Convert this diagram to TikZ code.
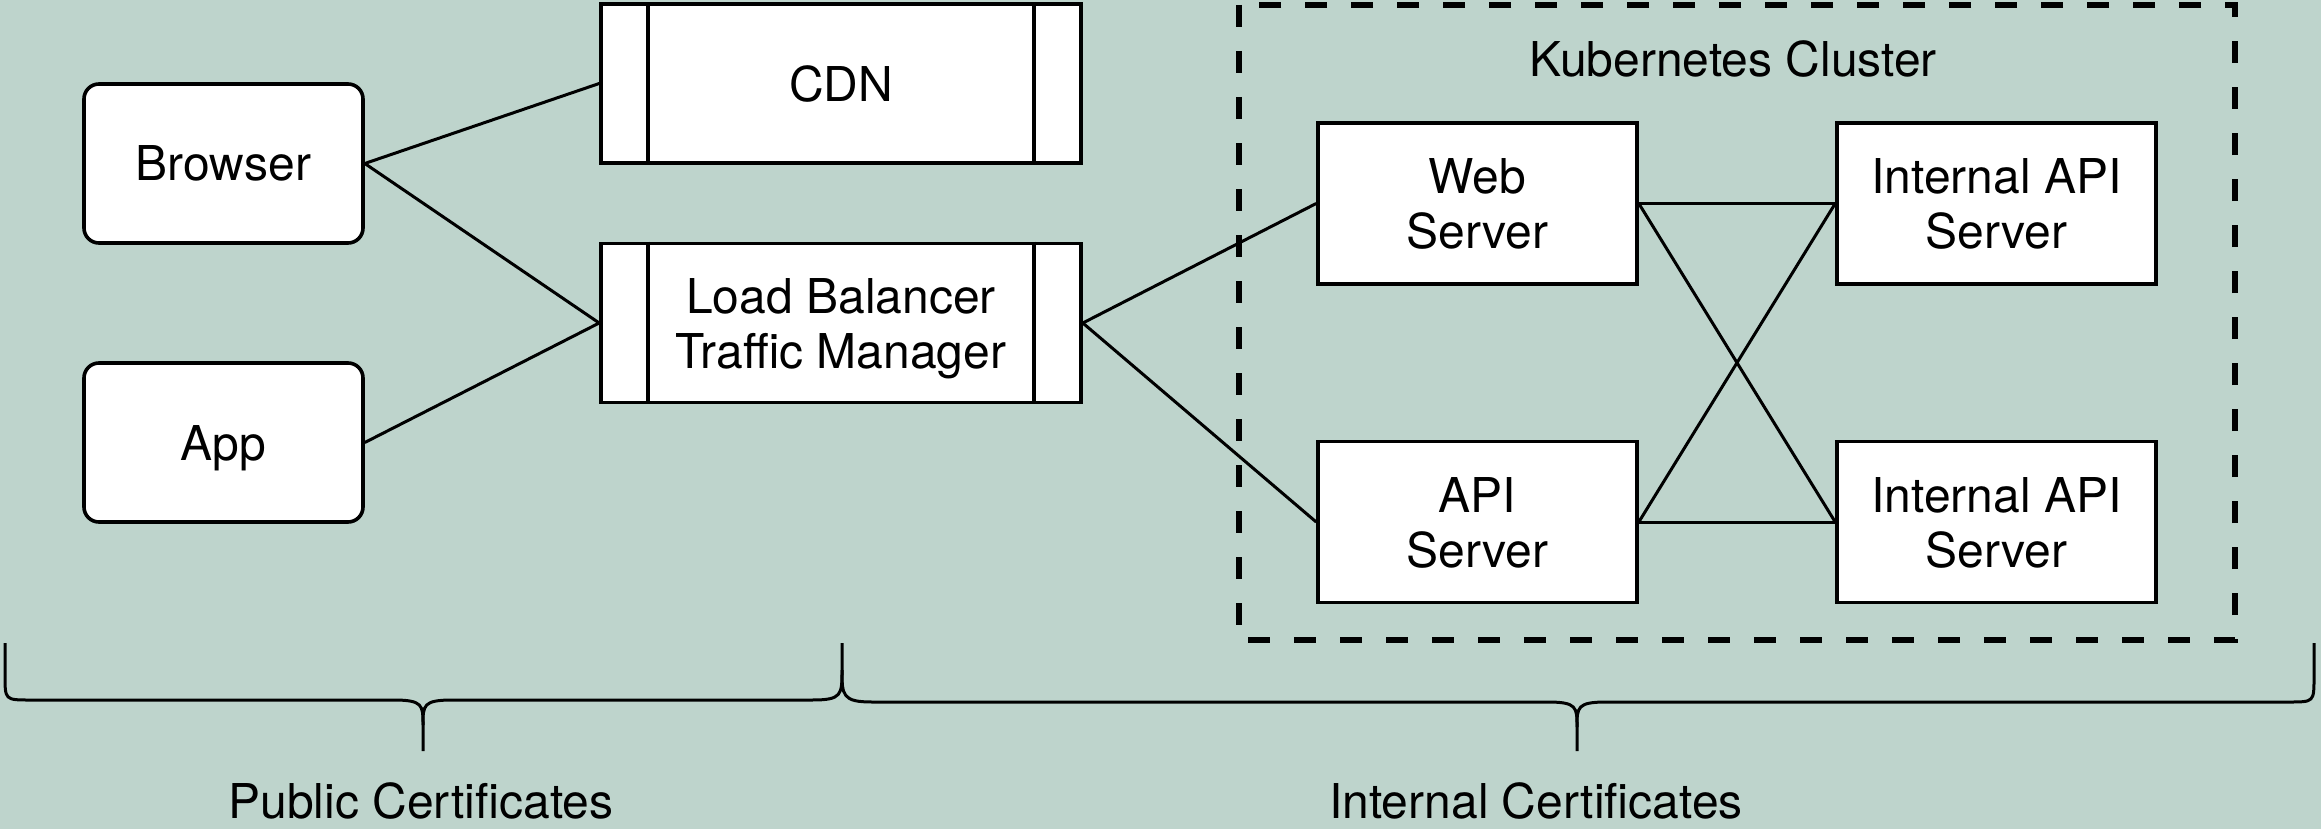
\documentclass[tikz,border=0pt]{standalone}
\usepackage{fontspec}
\setmainfont{TeX Gyre Heros}
\definecolor{bgc}{RGB}{190,212,204}
\begin{document}
\begin{tikzpicture}[x=0.5pt,y=-0.5pt,
  lbl/.style={font=\fontsize{24}{27.5}\selectfont, align=center, inner sep=0pt, text depth=0pt},
  client/.style={lbl, draw, line width=1.8pt, fill=white, rounded corners=7.5pt, minimum width=139.5pt, minimum height=79.5pt},
  proc/.style={lbl, draw, line width=1.8pt, fill=white, minimum width=240pt, minimum height=79.5pt},
  srv/.style={lbl, draw, line width=1.8pt, fill=white, minimum width=159.5pt, minimum height=80.5pt},
  conn/.style={line width=1.5pt},
  brace/.style={line width=1.5pt},
  cluster/.style={draw, line width=3pt, dash pattern=on 11pt off 12pt}
]
\fill[bgc] (0,0) rectangle (2321,829);
\useasboundingbox (0,0) rectangle (2321,829);

% cluster
\draw[cluster] (1239,5) rectangle (2235,640);
\node[lbl] (kc) at (1733,59) {Kubernetes Cluster};

% clients
\node[client] (browser) at (223.5,163.5) {Browser};
\node[client] (app) at (223.5,442.5) {App};

% CDN and LB
\node[proc] (cdn) at (841,83.5) {CDN};
\node[proc] (lb) at (841,323) {Load Balancer\\Traffic Manager};
\foreach \n in {cdn,lb}{
  \draw[line width=1.8pt] ([xshift=24.5pt]\n.north west) -- ([xshift=24.5pt]\n.south west);
  \draw[line width=1.8pt] ([xshift=-24.5pt]\n.north east) -- ([xshift=-24.5pt]\n.south east);
}

% servers
\node[srv] (web) at (1477.5,203.5) {Web\\Server};
\node[srv] (iapi1) at (1996.5,203.5) {Internal API\\Server};
\node[srv] (api) at (1477.5,522) {API\\Server};
\node[srv] (iapi2) at (1996.5,522) {Internal API\\Server};

% connectors
\draw[conn] (browser.east) -- (cdn.west);
\draw[conn] (browser.east) -- (lb.west);
\draw[conn] (app.east) -- (lb.west);
\draw[conn] (lb.east) -- (web.west);
\draw[conn] (lb.east) -- (api.west);
\draw[conn] (web.east) -- (iapi1.west);
\draw[conn] (web.east) -- (iapi2.west);
\draw[conn] (api.east) -- (iapi1.west);
\draw[conn] (api.east) -- (iapi2.west);

% braces
\draw[brace] (5,643) -- (5,675) .. controls (5,700) and (5,700) .. (30,700) -- (393,700)
  .. controls (423,700) and (423,705) .. (423,725) -- (423,751);
\draw[brace] (423,725) .. controls (423,705) and (423,700) .. (453,700) -- (812,700)
  .. controls (842,700) and (842,695) .. (842,670) -- (842,643);
\draw[brace] (842,670) .. controls (842,695) and (842,702) .. (872,702) -- (1547,702)
  .. controls (1577,702) and (1577,707) .. (1577,727) -- (1577,751);
\draw[brace] (1577,727) .. controls (1577,707) and (1577,702) .. (1607,702) -- (2289,702)
  .. controls (2314,702) and (2314,702) .. (2314,677) -- (2314,643);

\node[lbl] (pub) at (421,801) {Public Certificates};
\node[lbl] (int) at (1536,801) {Internal Certificates};
\end{tikzpicture}
\end{document}
